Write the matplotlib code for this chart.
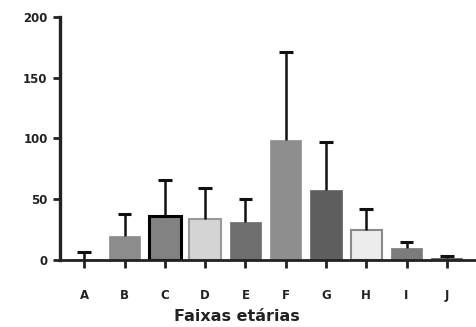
import matplotlib
matplotlib.use("Agg")
import matplotlib.pyplot as plt

categories = ["A", "B", "C", "D", "E", "F", "G", "H", "I", "J"]
means = [1, 20, 36.5, 34, 31.5, 99, 58, 25, 9.5, 1.5]
upper_err = [5.5, 17.5, 29.5, 25, 18.5, 72, 39, 17, 5, 1.5]
fill_colors = ["#8a8a8a", "#8c8c8c", "#828282", "#d4d4d4", "#6e6e6e",
               "#8e8e8e", "#5e5e5e", "#ececec", "#7c7c7c", "#555555"]
edge_colors = ["#8a8a8a", "#8c8c8c", "#000000", "#9a9a9a", "#6e6e6e",
               "#8e8e8e", "#5e5e5e", "#8a8a8a", "#7c7c7c", "#555555"]
edge_widths = [0.5, 0.5, 2.2, 1.5, 0.5, 0.5, 0.5, 1.5, 0.5, 0.5]
yticks = [0, 50, 100, 150, 200]

fig = plt.figure(figsize=(4.77, 3.27), dpi=100)
ax = fig.add_axes([0.126, 0.205, 0.874, 0.743])

x = list(range(len(categories)))
ax.bar(x, means, width=0.78, color=fill_colors, edgecolor=edge_colors,
       linewidth=edge_widths, zorder=2)

# upper-only error bars: stem from the bar top plus a cap
tops = [m + e for m, e in zip(means, upper_err)]
ax.vlines(x, means, tops, colors="#111111", linewidth=1.8, zorder=3)
ax.hlines(tops, [i - 0.17 for i in x], [i + 0.17 for i in x],
          colors="#111111", linewidth=2.2, zorder=3)

ax.set_xlim(-0.6, 9.75)
ax.set_ylim(0, 200)
ax.set_yticks(yticks)
ax.set_xticks(x)
ax.set_xticklabels(categories)

for side in ("top", "right"):
    ax.spines[side].set_visible(False)
ax.spines["left"].set_linewidth(2.4)
ax.spines["bottom"].set_linewidth(2.0)
ax.spines["left"].set_color("#222222")
ax.spines["bottom"].set_color("#222222")

ax.tick_params(axis="y", direction="out", length=5, width=2, colors="#222222",
               labelsize=8.5, pad=4)
ax.tick_params(axis="x", direction="out", length=6, width=2, colors="#222222",
               labelsize=8.5, pad=15)
for lbl in ax.get_xticklabels() + ax.get_yticklabels():
    lbl.set_fontweight("bold")
    lbl.set_color("#222222")

ax.set_xlabel("Faixas etárias", fontsize=11.5, fontweight="bold",
              color="#222222", va="center")
ax.xaxis.set_label_coords(0.425, -0.232)

fig.savefig("out.png", dpi=100)
